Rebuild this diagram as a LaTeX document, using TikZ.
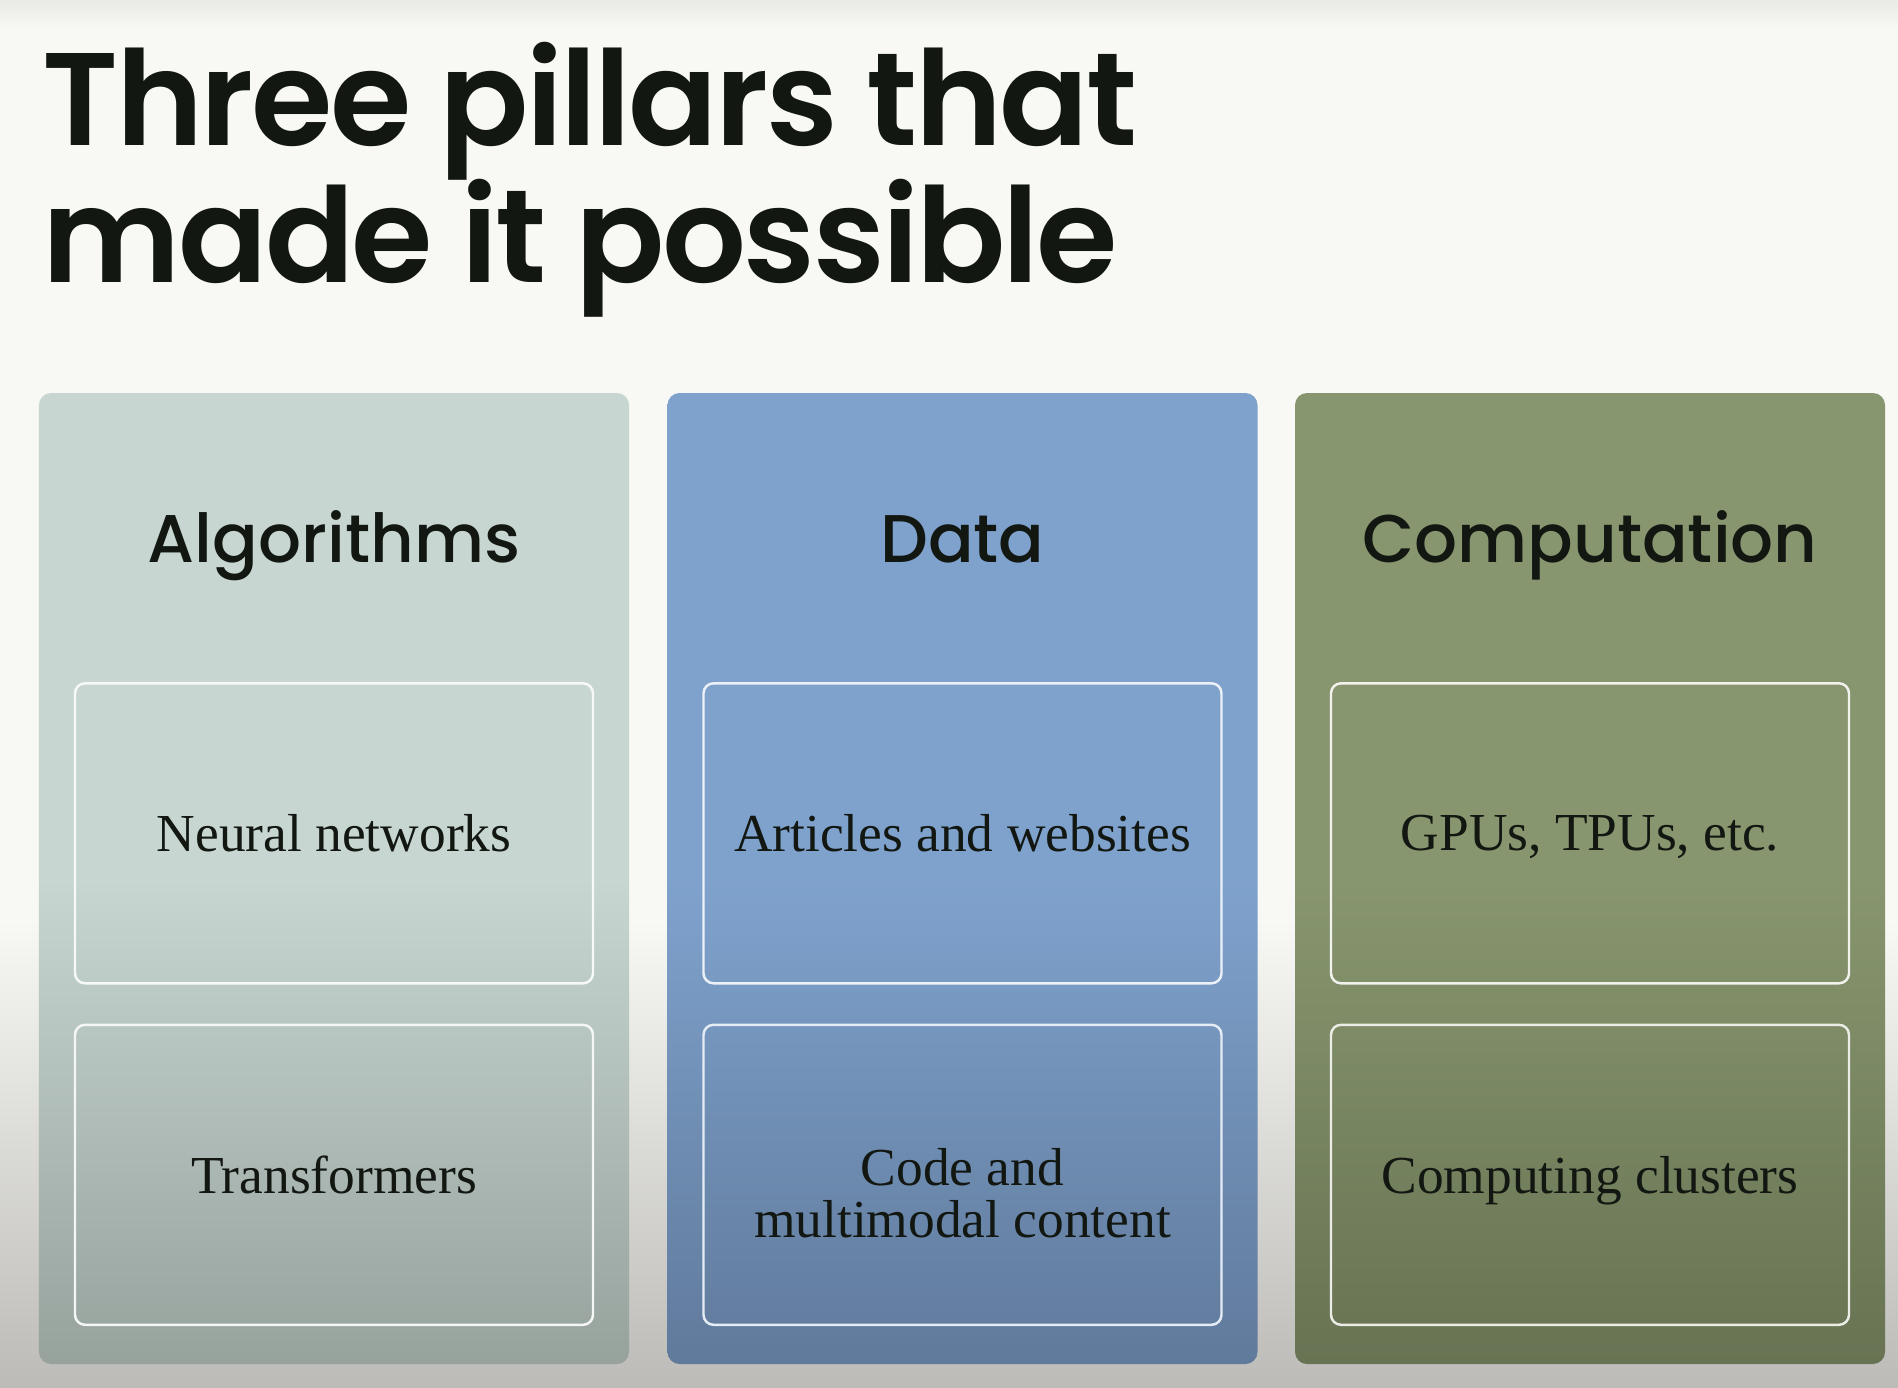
\documentclass[tikz,border=0pt]{standalone}
\usepackage{fontspec}
\setmainfont{Liberation Serif}
\newfontfamily\poppinssemi{Poppins SemiBold}[LetterSpace=-2]
\newfontfamily\poppinsmed{Poppins Medium}
\usetikzlibrary{positioning}

\definecolor{paper}{HTML}{F8F8F4}
\definecolor{paperdim}{HTML}{BCBBB8}
\definecolor{ink}{HTML}{121712}
\definecolor{algotop}{HTML}{C7D6D1}
\definecolor{algobot}{HTML}{97A29D}
\definecolor{datatop}{HTML}{7FA2CD}
\definecolor{databot}{HTML}{607A9B}
\definecolor{comptop}{HTML}{88966F}
\definecolor{compbot}{HTML}{677352}

\begin{document}
\begin{tikzpicture}[
  headline/.style={anchor=base west, inner sep=0pt, text=ink, font=\poppinssemi\fontsize{37.5}{40}\selectfont},
  pillar/.style={rounded corners=0.12cm, minimum width=5.90cm, minimum height=9.71cm, inner sep=0pt},
  pillarname/.style={anchor=base, inner sep=0pt, text=ink, font=\poppinsmed\fontsize{19.2}{22}\selectfont},
  item/.style={draw, line width=0.7pt, rounded corners=0.1cm, minimum width=5.18cm, minimum height=3.0cm,
    align=center, inner sep=0pt, text=ink, font=\fontsize{15.2}{14.8}\selectfont},
  oneline/.style={item, text depth=0pt}
]
\useasboundingbox (0,0) rectangle (18.98,-13.88);
\fill[paper] (0,0) rectangle (18.98,-13.88);
\shade[top color=paper, bottom color=paperdim] (0,-9.2) rectangle (18.98,-13.88);
\shade[top color=paper!88!gray, bottom color=paper] (0,0) rectangle (18.98,-0.3);

\node[headline] (line1) at (0.42,-1.45) {Three pillars that};
\node[headline] (line2) at (0.42,-2.82) {made it possible};

% three pillars, flat on top and darker toward the foot
\node[pillar, top color=algotop, bottom color=algobot, middle color=algotop] (algo) at (3.34,-8.785) {};
\node[pillar, top color=datatop, bottom color=databot, middle color=datatop] (data) at (9.625,-8.785) {};
\node[pillar, top color=comptop, bottom color=compbot, middle color=comptop] (comp) at (15.90,-8.785) {};

\node[pillarname] (algoname) at ([yshift=-1.70cm]algo.north) {Algorithms};
\node[pillarname] (dataname) at ([yshift=-1.70cm]data.north) {Data};
\node[pillarname] (compname) at ([yshift=-1.70cm]comp.north) {Computation};

\node[oneline, draw=white!85!algotop] (neural) at ([yshift=-4.41cm]algo.north) {Neural networks};
\node[oneline, draw=white!80!algotop] (transf) at ([yshift=-7.825cm]algo.north) {Transformers};
\node[oneline, draw=white!85!datatop] (articles) at ([yshift=-4.41cm]data.north) {Articles and websites};
\node[item, draw=white!80!datatop] (code) at ([yshift=-7.825cm]data.north) {\rule{0pt}{21pt}Code and\\multimodal content};
\node[oneline, draw=white!88!comptop] (gpus) at ([yshift=-4.41cm]comp.north) {GPUs, TPUs, etc.};
\node[oneline, draw=white!82!comptop] (clusters) at ([yshift=-7.825cm]comp.north) {Computing clusters};
\end{tikzpicture}
\end{document}
